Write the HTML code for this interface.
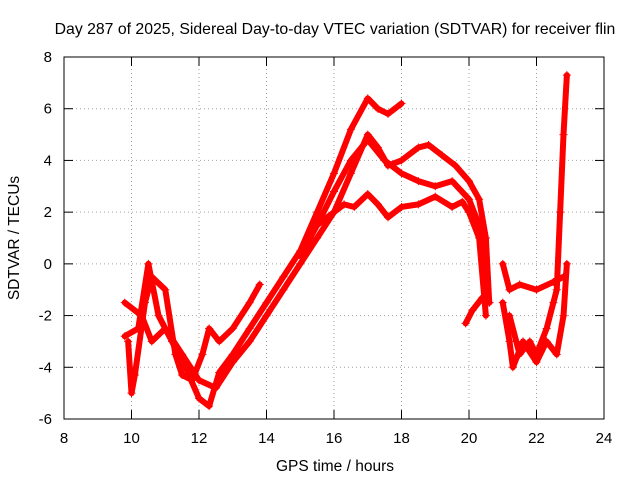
<!DOCTYPE html>
<html><head><meta charset="utf-8"><style>
body{margin:0;background:#fff;}
svg{display:block;font-family:"Liberation Sans",sans-serif;}
</style></head><body>
<svg id="chart" width="640" height="480">
<text x="335" y="34" font-size="15.8" text-anchor="middle">Day 287 of 2025, Sidereal Day-to-day VTEC variation (SDTVAR) for receiver flin</text>
<text x="335" y="471" font-size="15.5" text-anchor="middle">GPS time / hours</text>
<text x="19" y="238" font-size="15.5" text-anchor="middle" transform="rotate(-90 19 238)">SDTVAR / TECUs</text>
<g id="grid"></g><g id="ticks"></g><g id="series"></g>
<rect x="64" y="57" width="540" height="362" fill="none" stroke="#000" stroke-width="1"/>
</svg>
<script>
const xTicks=[8,10,12,14,16,18,20,22,24];
const yTicks=[-6,-4,-2,0,2,4,6,8];
const track1x=[9.8,10.2,10.5,10.8,11.2,11.6,12,12.3,12.6,13,13.5,14,14.5,15,15.5,16,16.5,17,17.3,17.6,18];
const track1y=[-2.8,-2.5,0,-2,-3,-4,-5.2,-5.5,-4.2,-3.5,-2.5,-1.5,-0.5,0.5,2,3.5,5.2,6.4,6,5.8,6.2];
const track2x=[9.8,10.3,10.6,11,11.5,12,12.5,13,13.5,14,14.5,15,15.5,16,16.5,17,17.3,17.6,18,18.5,18.8,19.2,19.6,20,20.3,20.5,20.6];
const track2y=[-1.5,-2,-3,-2.5,-3.5,-4.5,-4.8,-3.8,-3,-2,-1,0,1,2,3.5,5,4.5,3.8,4,4.5,4.6,4.2,3.8,3.2,2.5,1,-1.5];
const track3x=[15,15.5,16,16.5,17,17.5,18,18.5,19,19.5,20,20.3,20.5,20.6];
const track3y=[0.3,1.5,2.8,4,4.8,4,3.5,3.2,3,3.2,2.5,1.5,-0.5,-1.5];
const track4x=[15.2,15.5,16,16.3,16.6,17,17.3,17.6,18,18.5,19,19.5,19.8,20,20.3,20.5];
const track4y=[1,1.5,2,2.3,2.2,2.7,2.3,1.8,2.2,2.3,2.6,2.2,2.4,2,1,-2];
const track5x=[19.9,20.1,20.4,20.6];
const track5y=[-2.3,-1.8,-1.3,-1.5];
const track6x=[21,21.2,21.5,22,22.5,22.8];
const track6y=[0,-1,-0.8,-1,-0.7,-0.5];
const track7x=[21,21.2,21.3,21.6,22,22.3,22.6,22.8,22.9];
const track7y=[-1.5,-3,-4,-3,-3.8,-3,-3.5,-2,0];
const track8x=[21.2,21.5,21.8,22,22.3,22.5,22.6,22.7,22.8,22.9];
const track8y=[-2,-3.5,-3,-3.5,-2.5,-1.5,-1,2,5,7.3];
const track9x=[9.9,10,10.1,10.4,10.6,11,11.3,11.5,11.8,12.1,12.3,12.6,13,13.5,13.8];
const track9y=[-3,-5,-4.3,-1.5,-0.5,-1,-3.5,-4.3,-4.5,-3.5,-2.5,-3,-2.5,-1.5,-0.8];
const tracksX=[track1x,track2x,track3x,track4x,track5x,track6x,track7x,track8x,track9x];
const tracksY=[track1y,track2y,track3y,track4y,track5y,track6y,track7y,track8y,track9y];
const X=v=>64+(v-8)*540/16, Y=v=>419-(v+6)*362/14;
const NS="http://www.w3.org/2000/svg";
const mk=(t,a,p)=>{const e=document.createElementNS(NS,t);for(const k in a)e.setAttribute(k,a[k]);p.appendChild(e);return e;};
const grid=document.getElementById('grid'),ticks=document.getElementById('ticks'),ser=document.getElementById('series');
xTicks.forEach(t=>{const x=X(t);
 if(t>8&&t<24){const g=mk('line',{x1:x,x2:x,y1:57,y2:419,stroke:'#a0a0a0','stroke-dasharray':'1,3'},grid);
 
 }
 mk('line',{x1:x,x2:x,y1:419,y2:410,stroke:'#000'},ticks);mk('line',{x1:x,x2:x,y1:57,y2:66,stroke:'#000'},ticks);
 const l=mk('text',{x:x,y:443,'font-size':15,'text-anchor':'middle'},ticks);l.textContent=t;
 
 });
yTicks.forEach(t=>{const y=Y(t);
 if(t>-6&&t<8){const g=mk('line',{x1:64,x2:604,y1:y,y2:y,stroke:'#a0a0a0','stroke-dasharray':'1,3'},grid);
 
 }
 mk('line',{x1:64,x2:73,y1:y,y2:y,stroke:'#000'},ticks);mk('line',{x1:604,x2:595,y1:y,y2:y,stroke:'#000'},ticks);
 const l=mk('text',{x:52,y:y+5,'font-size':15,'text-anchor':'end'},ticks);l.textContent=t;
 
 });
tracksX.forEach((xs,i)=>{const ys=tracksY[i];
 const g=mk('g',{},ser);
 
 
 mk('polyline',{points:xs.map((x,j)=>X(x)+','+Y(ys[j])).join(' '),fill:'none',stroke:'#f00','stroke-width':6,'stroke-linejoin':'round','stroke-linecap':'round'},g);
 xs.forEach((x,j)=>{const px=X(x),py=Y(ys[j]);
  mk('path',{d:`M${px-4},${py}h8M${px},${py-4}v8`,stroke:'#f00','stroke-width':1},g);});
});
</script>
</body></html>
